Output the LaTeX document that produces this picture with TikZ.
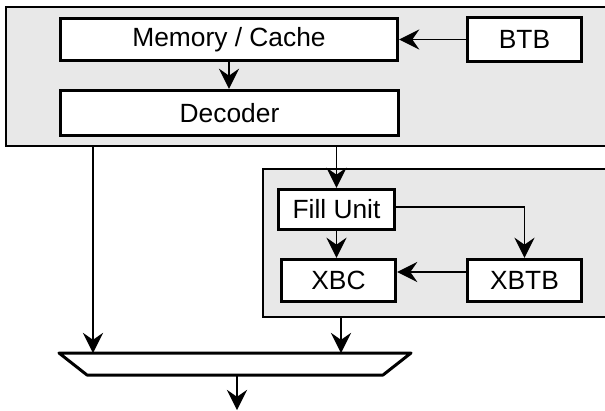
\documentclass[tikz,border=0pt]{standalone}
\usepackage{fontspec}
\setmainfont{Liberation Sans}
\usetikzlibrary{arrows.meta,calc}
\definecolor{panelgrey}{RGB}{232,232,232}
\begin{document}
\begin{tikzpicture}[x=0.02cm,y=-0.02cm,
  panel/.style={draw=black,fill=panelgrey,line width=1.1pt,inner sep=0pt},
  unit/.style={draw=black,fill=white,line width=1.9pt,inner sep=0pt,
    font=\fontsize{15}{17}\selectfont},
  arr/.style={line width=0.95pt,-{Stealth[length=11.5pt,width=11.5pt,inset=4pt]}},
  muxshape/.style={draw=black,fill=white,line width=1.7pt,line join=round}]
  \clip (0,0) rectangle (605,410);

  % front-end panel and trace-cache panel (both run past the right edge)
  \node[panel,minimum width=12.38cm,minimum height=2.78cm] (front) at (315.5,76.5) {};
  \node[panel,minimum width=7.24cm,minimum height=2.96cm] (trace) at (444,243) {};

  % functional units
  \node[unit,minimum width=6.74cm,minimum height=0.84cm] (mem) at (229,39.5) {Memory / Cache};
  \node[unit,minimum width=2.28cm,minimum height=0.88cm] (btb) at (524.5,39.5) {BTB};
  \node[unit,minimum width=6.76cm,minimum height=0.90cm] (dec) at (229.5,113) {Decoder};
  \node[unit,minimum width=2.32cm,minimum height=0.80cm] (fill) at (336.5,209.5) {Fill Unit};
  \node[unit,minimum width=2.28cm,minimum height=0.84cm] (xbc) at (338.5,280.5) {XBC};
  \node[unit,minimum width=2.28cm,minimum height=0.84cm] (xbtb) at (524.5,280.5) {XBTB};

  % selector
  \draw[muxshape] (59,353) -- (411,353) -- (383,375) -- (87,375) -- cycle;
  \coordinate (muxL) at (93,353);
  \coordinate (muxR) at (341,353);
  \coordinate (muxB) at (237,375);
  \coordinate (out) at (237,410);

  % connectors
  \draw[arr] (btb.west) -- (btb.west -| mem.east);
  \draw[arr] (mem.south) -- (mem.south |- dec.north);
  \draw[arr] (front.south -| muxL) -- (muxL);
  \draw[arr] (front.south -| fill.north) -- (fill.north);
  \draw[arr] (fill.south) -- (fill.south |- xbc.north);
  \draw[arr] ([yshift=0.05cm]fill.east) -| (xbtb.north);
  \draw[arr] ([yshift=0.17cm]xbtb.west) -- ([yshift=0.17cm]xbtb.west -| xbc.east);
  \draw[arr] (trace.south -| muxR) -- (muxR);
  \draw[arr] (muxB) -- (out);
\end{tikzpicture}
\end{document}
